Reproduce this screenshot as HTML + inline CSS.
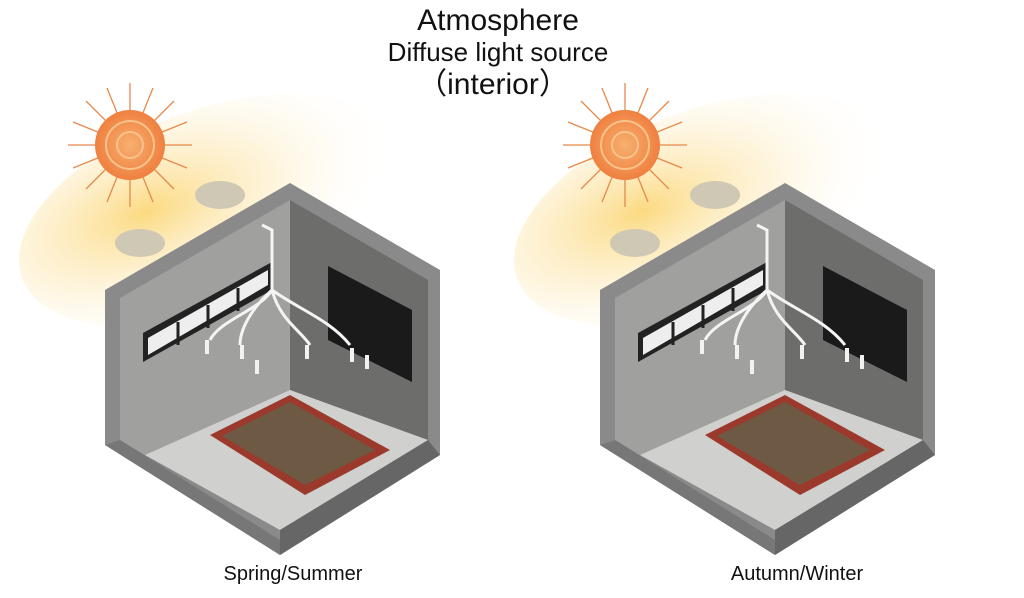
<!DOCTYPE html>
<html><head><meta charset="utf-8"><style>
html,body{margin:0;padding:0;background:#fff;}
svg{display:block;}
text{font-family:"Liberation Sans","Noto Sans CJK SC",sans-serif;fill:#111;}
</style></head><body>
<svg width="1024" height="598" viewBox="0 0 1024 598" xmlns="http://www.w3.org/2000/svg">
<defs>
<radialGradient id="glow" cx="0.35" cy="0.4" r="0.65">
<stop offset="0" stop-color="#fbd36a" stop-opacity="0.85"/>
<stop offset="0.5" stop-color="#fde7b0" stop-opacity="0.45"/>
<stop offset="1" stop-color="#fff" stop-opacity="0"/>
</radialGradient>
<radialGradient id="sun" cx="0.5" cy="0.5" r="0.5">
<stop offset="0" stop-color="#f7b070"/>
<stop offset="1" stop-color="#ef8040"/>
</radialGradient>
<g id="room">
<ellipse cx="210" cy="210" rx="200" ry="100" fill="url(#glow)" transform="rotate(-20 210 210)"/>
<polygon points="105,290 290,183 440,270 440,455 280,555 105,445" fill="#8a8a8a"/>
<polygon points="120,298 290,200 290,390 145,455 120,440" fill="#a0a09e"/>
<polygon points="290,200 428,280 428,440 290,390" fill="#6d6d6c"/>
<polygon points="145,455 290,390 428,440 280,530" fill="#d0d0ce"/>
<polygon points="105,445 280,555 280,540 120,440" fill="#777"/>
<polygon points="280,555 440,455 428,440 280,530" fill="#666"/>
<polygon points="143,333 272,262 272,290 143,362" fill="#222"/>
<polygon points="148,338 268,270 268,285 148,355" fill="#eee"/>
<line x1="178" y1="322" x2="178" y2="345" stroke="#222" stroke-width="3"/>
<line x1="208" y1="305" x2="208" y2="328" stroke="#222" stroke-width="3"/>
<line x1="238" y1="288" x2="238" y2="311" stroke="#222" stroke-width="3"/>
<polygon points="328,266 412,310 412,382 328,340" fill="#1a1a1a"/>
<path d="M262,225 L272,230 L272,290 M272,290 C260,310 220,320 210,340 M272,290 C300,310 330,320 350,345 M272,290 C280,320 300,330 310,345 M272,290 C250,310 240,330 240,345" stroke="#f4f4f4" stroke-width="3" fill="none"/>
<g fill="#f2f2f2"><rect x="205" y="340" width="4" height="14"/><rect x="240" y="345" width="4" height="14"/><rect x="305" y="345" width="4" height="14"/><rect x="350" y="348" width="4" height="14"/><rect x="255" y="360" width="4" height="14"/><rect x="365" y="355" width="4" height="14"/></g>
<polygon points="210,435 290,395 390,450 305,495" fill="#9b3a2c"/>
<polygon points="222,436 290,402 375,450 305,485" fill="#6e5a44"/>
<ellipse cx="220" cy="195" rx="25" ry="14" fill="#cfc8b4"/>
<ellipse cx="140" cy="243" rx="25" ry="14" fill="#cfc8b4"/>
<g stroke="#e8884a" stroke-width="1.3">
<line x1="68" y1="145" x2="192" y2="145"/><line x1="130" y1="83" x2="130" y2="207"/>
<line x1="86" y1="101" x2="174" y2="189"/><line x1="174" y1="101" x2="86" y2="189"/>
<line x1="73" y1="122" x2="187" y2="168"/><line x1="73" y1="168" x2="187" y2="122"/>
<line x1="107" y1="88" x2="153" y2="202"/><line x1="153" y1="88" x2="107" y2="202"/>
</g>
<circle cx="130" cy="145" r="35" fill="url(#sun)"/>
<circle cx="130" cy="145" r="24" fill="none" stroke="#f8c38a" stroke-width="2"/>
<circle cx="130" cy="145" r="13" fill="none" stroke="#f8c38a" stroke-width="2"/>
</g>
</defs>
<use href="#room"/>
<use href="#room" transform="translate(495,0)"/>
<text x="498" y="30" font-size="30" text-anchor="middle">Atmosphere</text>
<text x="498" y="61" font-size="26" text-anchor="middle">Diffuse light source</text>
<text x="493" y="94" font-size="30" text-anchor="middle">（interior）</text>
<text x="293" y="580" font-size="20" text-anchor="middle">Spring/Summer</text>
<text x="797" y="580" font-size="20" text-anchor="middle">Autumn/Winter</text>
</svg>
</body></html>
